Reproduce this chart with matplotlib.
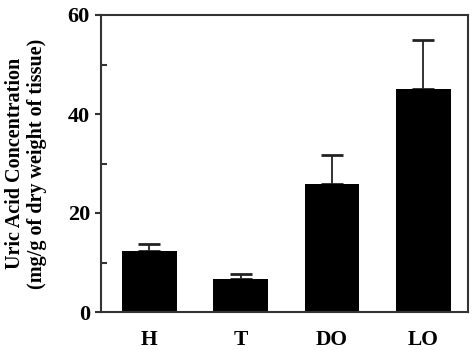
import matplotlib
matplotlib.use("Agg")
import matplotlib.pyplot as plt
from matplotlib.ticker import MultipleLocator

# ── Data ───────────────────────────────────────────────────────────────────
groups = ["H", "T", "DO", "LO"]
means = [12.3, 6.7, 25.8, 45.0]
sem_up = [1.5, 1.0, 6.0, 10.0]

plt.rcParams["font.family"] = ["Liberation Serif", "DejaVu Serif"]
plt.rcParams["font.weight"] = "bold"

fig = plt.figure(figsize=(4.74, 3.5), dpi=100)
ax = fig.add_axes([101 / 474, 1 - 312 / 350, (468 - 101) / 474, (312 - 15) / 350])

x = list(range(len(groups)))
ax.bar(x, means, width=0.6, color="black", zorder=2)
ax.errorbar(x, means, yerr=[[0] * len(means), sem_up], fmt="none",
            ecolor="#222222", elinewidth=1.3, capsize=8, capthick=2, zorder=1)

ax.set_xlim(-0.53, 3.49)
ax.set_ylim(0, 60)
ax.set_xticks(x)
ax.set_xticklabels(groups, fontsize=15.5, fontweight="bold")
ax.tick_params(axis="x", length=0, pad=13)
ax.yaxis.set_major_locator(MultipleLocator(20))
ax.yaxis.set_minor_locator(MultipleLocator(10))
ax.tick_params(axis="y", which="major", direction="out", length=4, width=1.5,
               labelsize=16, pad=4, color="#333333")
ax.tick_params(axis="y", which="minor", direction="in", length=4, width=1.5,
               color="#333333")
for lab in ax.get_yticklabels():
    lab.set_fontweight("bold")

for s in ax.spines.values():
    s.set_linewidth(1.5)
    s.set_color("#333333")

ax.set_ylabel("Uric Acid Concentration\n(mg/g of dry weight of tissue)",
              fontsize=14.5, fontweight="bold", labelpad=15, linespacing=1.15)

fig.savefig("out.png", dpi=100)
